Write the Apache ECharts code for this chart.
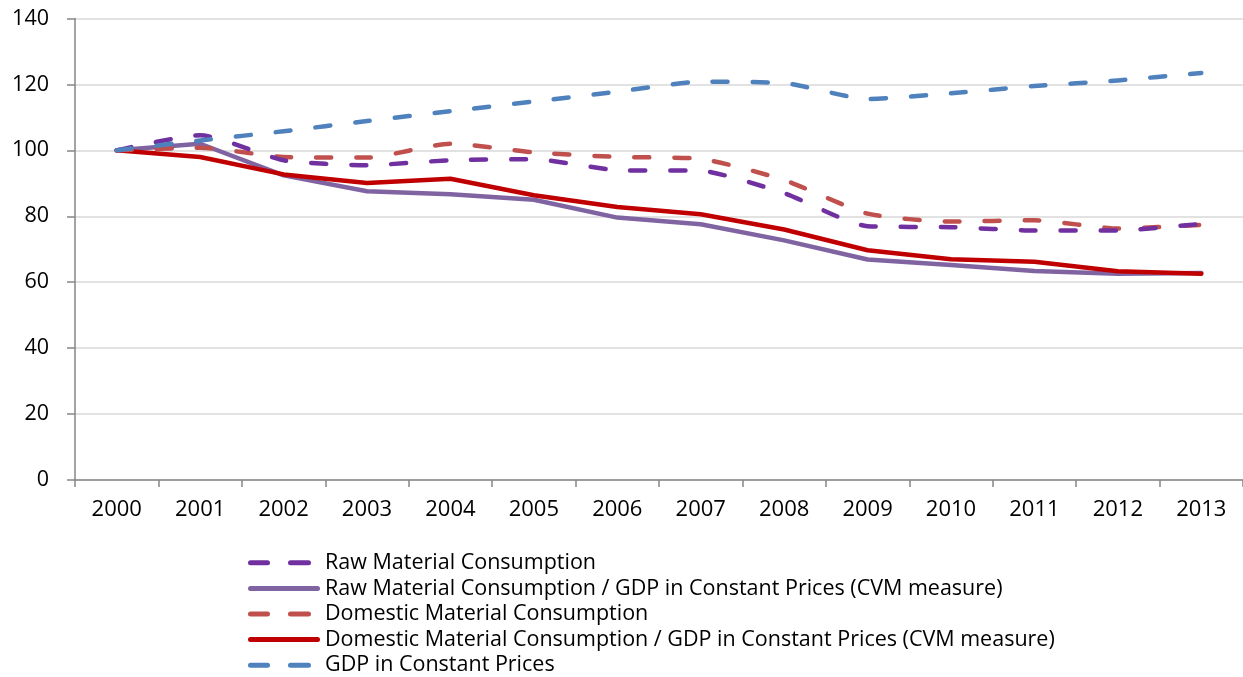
<!DOCTYPE html>
<html><head><meta charset="utf-8">
<script src="https://cdn.jsdelivr.net/npm/echarts@6/dist/echarts.min.js"></script>
<style>html,body{margin:0;padding:0;background:#fff}#c{width:1243px;height:677px}</style>
</head><body><div id="c"></div>
<script>
const years = ['2000','2001','2002','2003','2004','2005','2006','2007','2008','2009','2010','2011','2012','2013'];
const rmc = [100,104.6,97,95.5,97,97.3,94,93.8,87,77,76.7,75.7,75.7,77.7];
const rmcGdp = [100,102,92.4,87.6,86.7,85,79.6,77.6,72.7,66.9,65.2,63.4,62.6,62.8];
const dmc = [100,100.8,98,97.8,102,99.4,98,97.4,91,80.8,78.4,78.8,76.3,77.4];
const dmcGdp = [100,98,92.7,90.1,91.4,86.4,82.8,80.6,76,69.7,67,66.2,63.3,62.6];
const gdp = [100,103,105.8,108.9,111.9,114.8,117.8,120.8,120.4,115.6,117.3,119.5,121.2,123.5];
const names = ['Raw Material Consumption','Raw Material Consumption / GDP in Constant Prices (CVM measure)','Domestic Material Consumption','Domestic Material Consumption / GDP in Constant Prices (CVM measure)','GDP in Constant Prices'];

const FONT = '"Open Sans", "Noto Sans", sans-serif';
const DASH_ICON = 'path://M2.5,0H19.5A2.5,2.5,0,0,1,19.5,5H2.5A2.5,2.5,0,0,1,2.5,0Z M42.5,0H60.5A2.5,2.5,0,0,1,60.5,5H42.5A2.5,2.5,0,0,1,42.5,0Z M71.9,2.45H72V2.55H71.9Z';
const SOLID_ICON = 'path://M2.5,0H69.5A2.5,2.5,0,0,1,69.5,5H2.5A2.5,2.5,0,0,1,2.5,0Z';

function ser(name, data, color, dashed, z){
  return {name, type:'line', data, symbol:'none', smooth: dashed ? 0.2 : false, z,
    lineStyle:{color, width:4.5, type: dashed ? [15,25] : 'solid', cap:'round', join:'round'},
    itemStyle:{color}};
}
const chart = echarts.init(document.getElementById('c'), null, {renderer:'canvas'});
chart.setOption({
  animation:false,
  backgroundColor:'#fff',
  grid:{left:75, right:0, top:18.5, bottom:197, containLabel:false},
  xAxis:{type:'category', data:years, boundaryGap:true,
    axisLine:{lineStyle:{color:'#868686', width:1.5}},
    axisTick:{show:true, length:7, lineStyle:{color:'#868686', width:1.5}},
    axisLabel:{color:'#000', fontSize:22, fontFamily:FONT, margin:19}},
  yAxis:{type:'value', min:0, max:140, interval:20,
    axisLine:{show:true, lineStyle:{color:'#868686', width:1.5}},
    axisTick:{show:true, length:8, lineStyle:{color:'#868686', width:1.5}},
    splitLine:{lineStyle:{color:'#d9d9d9', width:1.5}},
    axisLabel:{color:'#000', fontSize:21.5, fontFamily:FONT, margin:26}},
  legend:{orient:'vertical', left:243, top:545, height:150, itemWidth:72, itemHeight:5, itemGap:0,
    itemStyle:{borderWidth:0},
    textStyle:{fontSize:21.5, lineHeight:25.6, fontFamily:FONT, color:'#000'},
    data:[
      {name:names[0], icon:DASH_ICON},
      {name:names[1], icon:SOLID_ICON},
      {name:names[2], icon:DASH_ICON},
      {name:names[3], icon:SOLID_ICON},
      {name:names[4], icon:DASH_ICON}
    ]},
  series:[
    ser(names[1], rmcGdp, '#8064A2', false, 2),
    ser(names[3], dmcGdp, '#C00000', false, 3),
    ser(names[2], dmc, '#C0504D', true, 4),
    ser(names[0], rmc, '#7030A0', true, 5),
    ser(names[4], gdp, '#4F81BD', true, 6)
  ]
});
</script></body></html>
